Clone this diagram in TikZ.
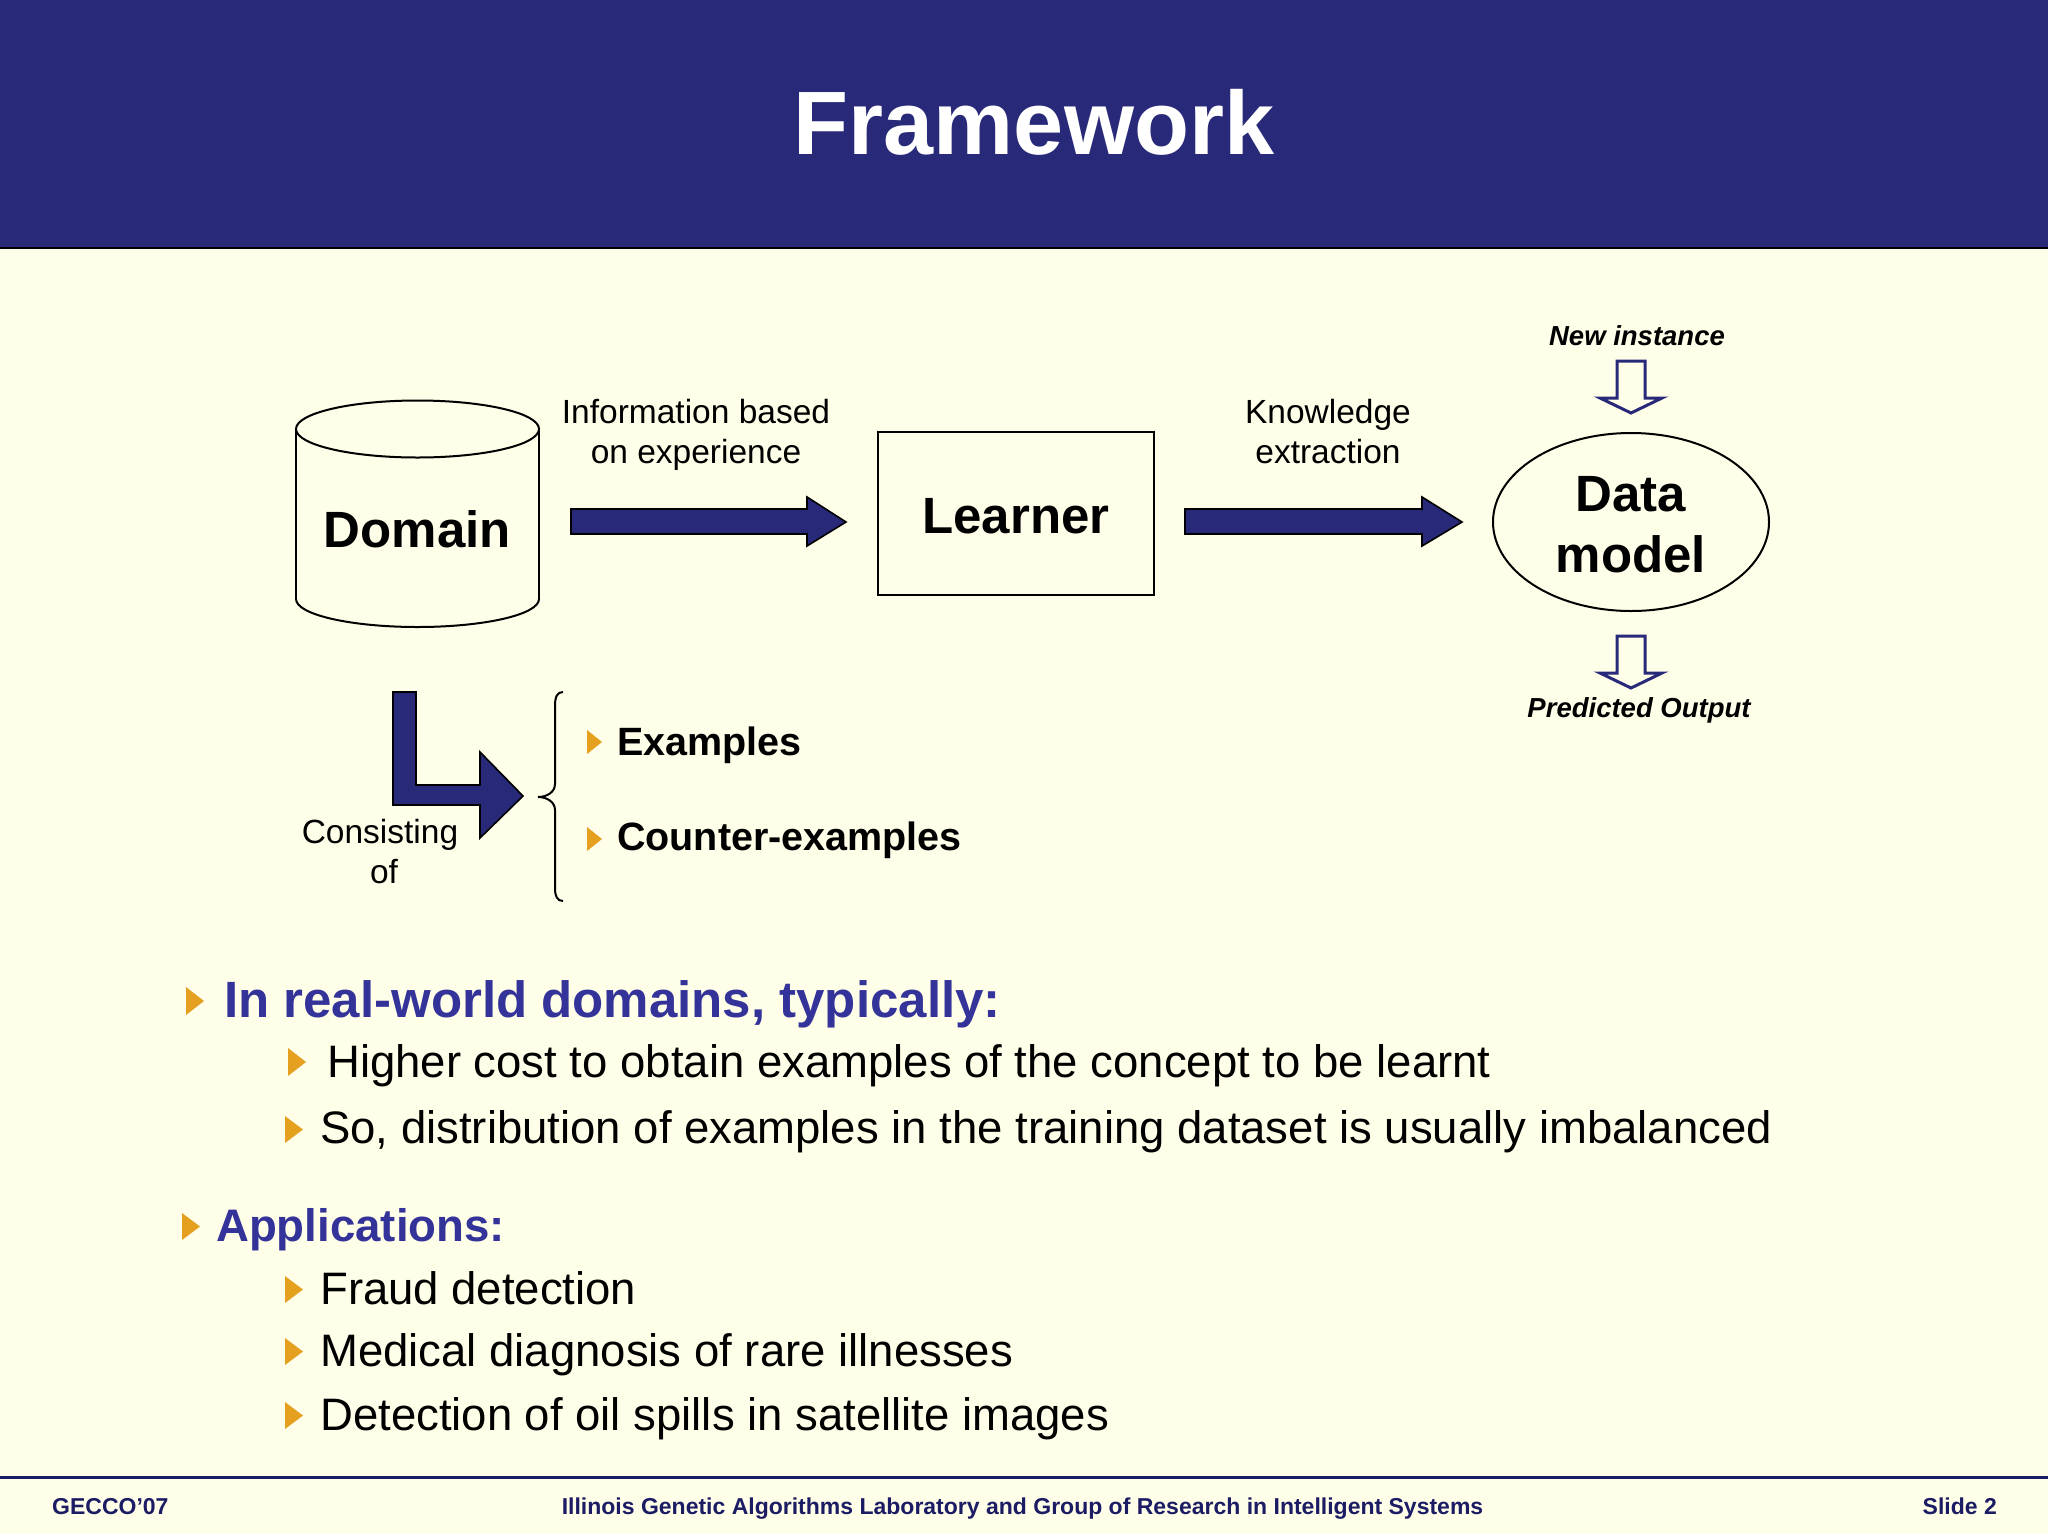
\documentclass[tikz,border=0pt]{standalone}
\usepackage{fontspec}
\setmainfont{Liberation Sans}
\usetikzlibrary{shapes.geometric}
\definecolor{navy}{RGB}{41,41,122}
\definecolor{bg}{RGB}{255,254,232}
\definecolor{tblue}{RGB}{51,51,153}
\definecolor{bulc}{RGB}{230,160,32}
\definecolor{foot}{RGB}{28,28,100}
\newcommand{\fsz}[1]{\fontsize{#1}{#1}\selectfont}
\newcommand{\mybul}[4]{\fill[bulc] (#1,#2) -- ({#1+#3},{#2+#4/2}) -- (#1,{#2+#4}) -- cycle;}
\begin{document}
\begin{tikzpicture}[x=1pt,y=-1pt,
  txt/.style={inner sep=0pt, anchor=base},
  txtw/.style={inner sep=0pt, anchor=base west},
  bigb/.style={font=\fsz{51}\bfseries},
  lbl/.style={font=\fsz{33.5}},
  ital/.style={font=\fsz{27.5}\bfseries\itshape},
  ol/.style={line width=2pt, draw=black},
  blockarrow/.style={fill=navy, draw=black, line width=1.6pt, line join=miter},
  hollow/.style={draw=navy, line width=3pt, fill=bg, line join=miter},
  lvlone/.style={font=\fsz{51}\bfseries, text=tblue},
  lvltwo/.style={font=\fsz{45.5}},
  foottxt/.style={font=\fsz{23}\bfseries, text=foot, inner sep=0pt}]
\useasboundingbox (0,0) rectangle (2048,1534);
\fill[bg] (0,0) rectangle (2048,1534);
% header
\fill[navy] (0,0) rectangle (2048,248);
\draw[black, line width=2pt] (0,248) -- (2048,248);
\node[txt, font=\fsz{90}\bfseries, text=white] (title) at (1034,154) {Framework};

% Domain cylinder
\draw[ol] (296,429) -- (296,599);
\draw[ol] (539,429) -- (539,599);
\draw[ol] (417.5,429) ellipse[x radius=121.5, y radius=28.5];
\begin{scope}
  \clip (280,599) rectangle (560,640);
  \draw[ol] (417.5,599) ellipse[x radius=121.5, y radius=28];
\end{scope}
\node[txt, bigb] (domain) at (417.5,547) {Domain};

% Learner box
\node[ol, draw, minimum width=276pt, minimum height=163pt, inner sep=0pt] (learnerbox) at (1016,513.5) {};
\node[txt, bigb] (learner) at (1016,533) {Learner};

% Data model ellipse
\node[ol, draw, ellipse, minimum width=276pt, minimum height=178pt, inner sep=0pt] (dmodel) at (1631,522) {};
\node[txt, bigb] (data) at (1631,511) {Data};
\node[txt, bigb] (model) at (1631,572) {model};

% block arrows
\draw[blockarrow] (571,509) -- (807,509) -- (807,497) -- (846,522) -- (807,546) -- (807,534) -- (571,534) -- cycle;
\draw[blockarrow] (1185,509) -- (1422,509) -- (1422,497) -- (1462,522) -- (1422,546) -- (1422,534) -- (1185,534) -- cycle;

% labels
\node[txt, lbl] (info1) at (696,423) {Information based};
\node[txt, lbl] (info2) at (696,463) {on experience};
\node[txt, lbl] (know1) at (1328,423) {Knowledge};
\node[txt, lbl] (know2) at (1328,463) {extraction};

% hollow arrows
\draw[hollow] (1617,361) -- (1645,361) -- (1645,398) -- (1662,398) -- (1631,413) -- (1600,398) -- (1617,398) -- cycle;
\draw[hollow] (1617,636) -- (1645,636) -- (1645,673) -- (1662,673) -- (1631,688) -- (1600,673) -- (1617,673) -- cycle;
\node[txt, ital] (newinst) at (1637,345) {New instance};
\node[txt, ital] (predout) at (1639,717) {Predicted Output};

% L-shaped arrow
\draw[blockarrow] (393,692) -- (416,692) -- (416,785) -- (480,785) -- (480,752) -- (523,796) -- (480,838) -- (480,805) -- (393,805) -- cycle;
\node[txt, lbl] (cons1) at (380,843) {Consisting};
\node[txt, lbl] (cons2) at (384,883) {of};

% brace
\draw[line width=2pt] (563,692) .. controls (557,692) and (555,697) .. (555,706) -- (555,784)
  .. controls (555,792) and (547,797) .. (538,797)
  .. controls (547,797) and (555,802) .. (555,810) -- (555,888)
  .. controls (555,896) and (557,901) .. (563,901);

% examples
\mybul{587}{730}{15}{24}
\node[txtw, font=\fsz{39.5}\bfseries] (examples) at (617,755) {Examples};
\mybul{587}{827}{15}{24}
\node[txtw, font=\fsz{39.5}\bfseries] (counter) at (617,850) {Counter-examples};

% main bullets
\mybul{186}{987}{18}{28}
\node[txtw, lvlone] (realworld) at (224,1017) {In real-world domains, typically:};
\mybul{288}{1048}{18}{28}
\node[txtw, lvltwo] (higher) at (327,1077) {Higher cost to obtain examples of the concept to be learnt};
\mybul{285}{1116}{18}{27}
\node[txtw, lvltwo] (sodist) at (320,1143) {So, distribution of examples in the training dataset is usually imbalanced};

\mybul{182}{1213}{18}{27}
\node[txtw, font=\fsz{45.6}\bfseries, text=tblue] (apps) at (216,1241) {Applications:};
\mybul{285}{1276}{18}{27}
\node[txtw, lvltwo] (fraud) at (320,1304) {Fraud detection};
\mybul{285}{1338}{18}{27}
\node[txtw, lvltwo] (medical) at (320,1366) {Medical diagnosis of rare illnesses};
\mybul{285}{1402}{18}{27}
\node[txtw, lvltwo] (oil) at (320,1430) {Detection of oil spills in satellite images};

% footer
\draw[foot, line width=3pt] (0,1477) -- (2048,1477);
\node[foottxt, anchor=base west] (gecco) at (52,1514) {GECCO’07};
\node[foottxt, anchor=base] (lab) at (1022.5,1514) {Illinois Genetic Algorithms Laboratory and Group of Research in Intelligent Systems};
\node[foottxt, anchor=base east] (slide) at (1997,1514) {Slide 2};
\end{tikzpicture}
\end{document}
